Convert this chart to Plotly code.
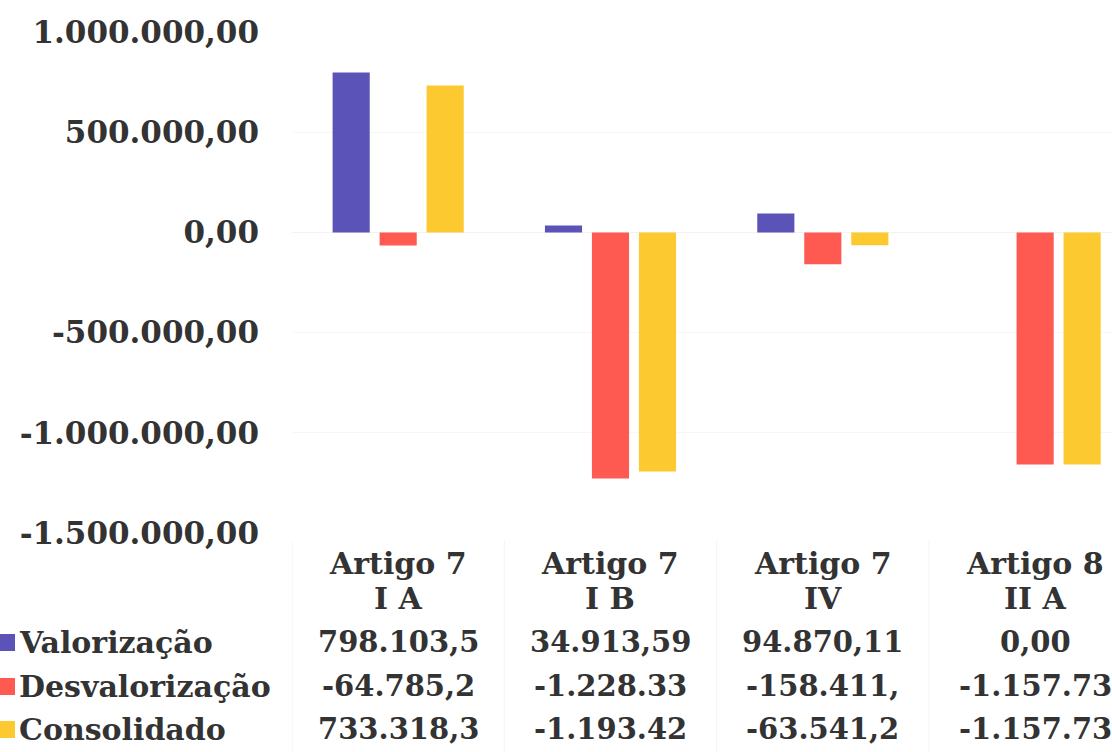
import plotly.graph_objects as go

W, H = 1112, 752

categories = ["Artigo 7 I A", "Artigo 7 I B", "Artigo 7 IV", "Artigo 8 II A"]
header_line1 = ["Artigo 7", "Artigo 7", "Artigo 7", "Artigo 8"]
header_line2 = ["I A", "I B", "IV", "II A"]

series_names = ["Valorização", "Desvalorização", "Consolidado"]
valorizacao = [798103.5, 34913.59, 94870.11, 0.0]
desvalorizacao = [-64785.2, -1228330.0, -158411.0, -1157730.0]
consolidado = [733318.3, -1193420.0, -63541.2, -1157730.0]

valorizacao_lbl = ["798.103,5", "34.913,59", "94.870,11", "0,00"]
desvalorizacao_lbl = ["-64.785,2", "-1.228.33", "-158.411,", "-1.157.73"]
consolidado_lbl = ["733.318,3", "-1.193.42", "-63.541,2", "-1.157.73"]

tick_vals = [1000000, 500000, 0, -500000, -1000000, -1500000]
tick_text = ["1.000.000,00", "500.000,00", "0,00", "-500.000,00", "-1.000.000,00", "-1.500.000,00"]

colors = ["#5B53B8", "#FF5A52", "#FDC930"]
FONT = "DejaVu Serif"
TXT = "#333333"

series = [valorizacao, desvalorizacao, consolidado]
labels = [valorizacao_lbl, desvalorizacao_lbl, consolidado_lbl]

fig = go.Figure()
for name, vals, col in zip(series_names, series, colors):
    fig.add_trace(go.Bar(x=categories, y=vals, name=name, marker=dict(color=col, line=dict(width=0))))

def py(p):
    return 1 - p / H

plot_top, plot_bot = 32, 533
plot_left = 292

fig.update_layout(
    width=W, height=H,
    margin=dict(l=0, r=0, t=0, b=0, autoexpand=False),
    paper_bgcolor="white", plot_bgcolor="white",
    barmode="group", bargap=0.336, bargroupgap=0.21,
    showlegend=False,
    xaxis=dict(domain=[plot_left / W, 1], range=[-0.5, 3.362], showticklabels=False,
               showgrid=False, zeroline=False, showline=False, fixedrange=True, automargin=False),
    yaxis=dict(domain=[py(plot_bot), py(plot_top)], range=[-1500000, 1000000],
               tickvals=tick_vals, ticktext=tick_text, ticks="",
               tickfont=dict(family=FONT, size=31, color=TXT, weight="bold"),
               ticklabelstandoff=32, automargin=False,
               showgrid=True, gridcolor="#F7F7F7", gridwidth=1,
               zeroline=True, zerolinecolor="#F2F2F2", zerolinewidth=1,
               showline=False),
)

ann = []
shapes = []
HF = dict(family=FONT, size=30, color=TXT, weight="bold")
VF = dict(family=FONT, size=29, color=TXT, weight="bold")
for c, l1, l2 in zip(categories, header_line1, header_line2):
    ann.append(dict(x=c, xref="x", y=py(563), yref="paper", text=l1, showarrow=False,
                    font=HF, xanchor="center", yanchor="middle"))
    ann.append(dict(x=c, xref="x", y=py(598), yref="paper", text=l2, showarrow=False,
                    font=HF, xanchor="center", yanchor="middle"))

row_y = [642, 686, 729]
for name, lbls, col, ry in zip(series_names, labels, colors, row_y):
    ann.append(dict(x=17 / W, xref="paper", y=py(ry), yref="paper", text=name, showarrow=False,
                    font=dict(family=FONT, size=30, color=TXT, weight="bold"), xanchor="left", yanchor="middle"))
    shapes.append(dict(type="rect", xref="paper", yref="paper", x0=0, x1=15 / W,
                       y0=py(ry + 9), y1=py(ry - 8), fillcolor=col, line=dict(width=0)))
    for c, t in zip(categories, lbls):
        ann.append(dict(x=c, xref="x", y=py(ry), yref="paper", text=t, showarrow=False,
                        font=VF, xanchor="center", yanchor="middle"))

for i in range(4):
    shapes.append(dict(type="line", xref="x", yref="paper", x0=i - 0.5, x1=i - 0.5,
                       y0=0, y1=py(540), line=dict(color="#F4F4F4", width=1)))

fig.update_layout(annotations=ann, shapes=shapes)
fig.write_html("out.html", config={"displayModeBar": False},
               post_script="document.body.style.margin='0';document.body.style.padding='0';")
